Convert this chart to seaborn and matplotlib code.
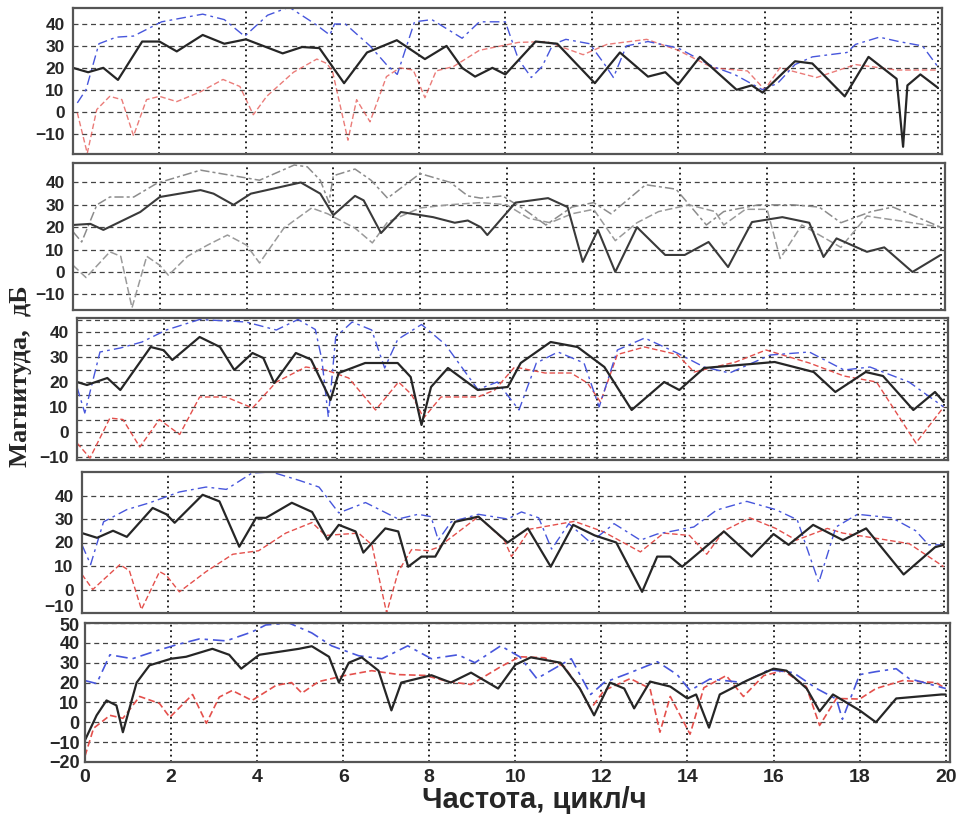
import numpy as np
import pandas as pd
import matplotlib
matplotlib.use('Agg')
import matplotlib.pyplot as plt
from matplotlib.transforms import ScaledTranslation
import seaborn as sns

# ============================
# Spectra (frequency in cycles/h, magnitude in dB)
# ============================
# Panel 1
f1_black = [0, 0.35, 0.7, 1.04, 1.6, 2.0, 2.4, 3.0, 3.5, 4.0, 4.85, 5.3, 5.7, 6.27, 6.8, 7.49, 8.14, 8.64, 9.0, 9.3,
            9.7, 10.0, 10.7, 11.2, 12.07, 12.65, 13.3, 13.7, 14.0, 14.5, 15.35, 15.7, 15.95, 16.7, 17.1, 17.85, 18.4,
            19.05, 19.2, 19.3, 19.6, 20.0]
db1_black = [20, 18, 20, 14.5, 32, 32, 27.5, 35, 31, 33, 26.6, 29.5, 29, 13, 27, 32.6, 24, 30, 20, 16,
             20, 17, 32, 31, 13, 27, 16, 18, 12.4, 25, 10, 12, 8.7, 23, 22, 7, 25,
             15, -16, 12, 17, 11]
f1_blue = [0.1, 0.3, 0.6, 1.0, 1.4, 2.05, 3.0, 3.5, 3.97, 4.5, 5.0, 5.6, 5.94, 6.05, 6.3, 6.87, 7.25, 7.5, 7.9, 8.3,
           9.0, 9.4, 10.0, 10.3, 10.6, 10.85, 11.1, 11.4, 11.95, 12.3, 12.5, 12.8, 13.3, 14.0, 14.8, 15.3, 15.95,
           16.3, 16.7, 17.1, 17.9, 18.1, 18.65, 19.1, 19.65, 20.0]
db1_blue = [4, 10, 31, 34, 34.5, 41, 44.5, 42, 34.4, 44, 47.7, 40, 35, 40, 40, 30, 21.5, 17, 41, 42,
            33.5, 41, 41, 24, 15.6, 20.6, 30.7, 33, 31, 21.5, 15.6, 30, 32, 29, 20.6, 17, 10,
            13, 21.5, 25, 27, 30.7, 34, 32, 30, 20.6]
f1_red = [0.1, 0.33, 0.55, 0.85, 1.13, 1.4, 1.7, 2.0, 2.4, 2.94, 3.47, 3.86, 4.17, 4.48, 5.1, 5.64, 5.87, 6.0, 6.36,
          6.56, 6.87, 7.25, 7.56, 7.87, 8.14, 8.4, 8.8, 9.4, 10.3, 10.95, 11.8, 12.35, 13.27, 14.0, 14.8, 15.6,
          16.0, 16.35, 17.2, 18.1, 19.05, 20.0]
db1_red = [-0.5, -19, 1, 7, 5.5, -11, 5.5, 7, 4.6, 9, 14.7, 11.5, -1.4, 7, 18, 24, 22, 18.6, -13,
           5.5, -4.6, 16, 20, 19, 6.4, 18.6, 20.6, 28, 31.6, 32, 26, 30.7, 33, 28, 20, 18.6,
           10, 20, 15.6, 21.5, 19, 19]

# Panel 2 (grey scale)
f2_dark = [0, 0.4, 0.7, 1.55, 2.0, 2.94, 3.24, 3.7, 4.1, 5.25, 5.7, 6.0, 6.5, 6.7, 7.1, 7.56, 8.3, 8.8, 9.1, 9.4,
           9.55, 10.2, 10.95, 11.4, 11.75, 12.1, 12.5, 13.0, 13.65, 14.1, 14.65, 15.1, 15.65, 16.35, 16.97, 17.3,
           17.6, 18.3, 18.7, 19.35, 20.0]
db2_dark = [21, 21.5, 18.8, 26.8, 33.5, 36.6, 35, 30, 35, 40, 35, 25.4, 34, 32, 17.4, 26.8, 24.5, 22, 23, 20,
            16.5, 31, 33, 29, 4.5, 18.8, 0, 20, 7.6, 7.6, 13.4, 2.2, 22.3, 24.5, 22, 6.7,
            15, 9, 11, 0, 7.6]
f2_upper = [0, 0.2, 0.55, 0.85, 1.4, 1.94, 2.94, 3.7, 4.3, 5.1, 5.4, 5.7, 5.9, 6.0, 6.5, 6.87, 7.25, 8.0, 8.7, 9.1,
            9.4, 9.9, 10.4, 10.9, 11.5, 12.0, 12.4, 13.2, 13.9, 14.6, 15.0, 15.8, 16.6, 17.2, 17.7, 18.4, 18.9,
            19.4, 20.0]
db2_upper = [18, 13.4, 30, 33.5, 33.5, 39.7, 45.5, 43, 41, 47.8, 47, 41, 31, 43, 46, 41, 33, 44, 40, 34,
             33, 34, 28, 21, 29, 31, 26, 39, 37, 21, 27, 30, 30, 29, 22, 27, 29,
             25, 20]
f2_lower = [0, 0.3, 0.85, 1.1, 1.36, 1.7, 2.0, 2.2, 2.64, 3.1, 3.56, 4.0, 4.3, 4.86, 5.5, 5.87, 6.5, 6.9, 7.25, 8.0,
            8.65, 9.4, 10.0, 10.5, 11.0, 11.5, 12.0, 12.5, 13.0, 13.5, 14.2, 14.8, 15.0, 15.5, 16.0, 16.3, 16.8,
            17.7, 18.3, 19.0, 20.0]
db2_lower = [3, -2.5, 9, 7, -16, 7, 3, -1.5, 7, 12, 16.5, 12, 4, 19.6, 28.6, 26, 19.6, 13, 22.3, 28.6,
             30, 31, 30, 24, 22, 26, 28, 14, 22, 27, 30, 27, 21, 28, 28, 6, 21,
             11, 25, 23, 20]

# Panel 3
f3_black = [0, 0.23, 0.7, 1.0, 1.7, 2.0, 2.2, 2.83, 3.3, 3.63, 4.05, 4.3, 4.55, 5.05, 5.4, 5.85, 6.04, 6.65, 7.4,
            7.7, 7.95, 8.17, 8.56, 9.25, 9.94, 10.24, 10.93, 11.55, 12.17, 12.8, 13.55, 13.9, 14.47, 16.1, 17.0,
            17.5, 18.2, 18.6, 19.3, 19.8, 20.0]
db3_black = [20, 18.8, 21.6, 16.8, 34, 32.7, 28.8, 38, 34, 24.8, 31.6, 29.6, 19.6, 31.6, 29, 12.8, 23.6, 27.6, 27.6,
             22, 2.8, 18, 25.6, 16.8, 18, 27.6, 36, 34, 26, 8.8, 20, 16.8, 25.6, 28, 24,
             16, 24, 22.4, 8.8, 16, 12]
f3_blue = [0, 0.18, 0.53, 1.0, 1.5, 2.06, 2.83, 3.9, 4.6, 5.1, 5.5, 5.65, 5.8, 5.97, 6.35, 6.8, 7.1, 7.4, 7.95, 8.5,
           9.25, 9.7, 10.2, 10.6, 11.1, 11.7, 12.05, 12.47, 13.1, 13.85, 14.47, 15.06, 16.0, 16.9, 17.7, 18.3,
           19.2, 20.0]
db3_blue = [18, 7.6, 32, 33.6, 36, 40.8, 45, 44, 40.8, 45, 41, 29, 6, 38, 44, 40.8, 25.6, 37, 43, 35,
            17, 20, 8.8, 27.6, 32, 27.6, 10, 32.8, 37.6, 31.6, 26, 23.6, 30.8, 32, 24.8, 26,
            20, 10]
f3_red = [0, 0.3, 0.76, 1.06, 1.45, 1.9, 2.37, 2.83, 3.44, 4.05, 4.6, 5.28, 5.74, 6.27, 6.89, 7.42, 7.72, 8.0, 8.4,
          9.25, 9.64, 10.1, 10.8, 11.4, 11.78, 12.08, 12.47, 13.1, 13.85, 14.24, 15.2, 15.9, 16.9, 17.7, 18.45,
          19.36, 20.0]
db3_red = [-4.4, -10.4, 5.6, 5, -6, 5, -1, 14, 14, 9.6, 20, 26, 24.8, 21.6, 8.8, 20, 15, 5.6, 14,
           14, 16.8, 26, 23.6, 23.6, 19.6, 12, 31, 34, 31, 24, 28, 32.8, 27.6, 22.4, 20,
           -4.4, 10]

# Panel 4
f4_black = [0, 0.35, 0.72, 1.04, 1.64, 1.96, 2.15, 2.8, 3.19, 3.65, 4.04, 4.27, 4.87, 5.34, 5.7, 5.96, 6.35, 6.53,
            7.04, 7.34, 7.57, 7.88, 8.2, 8.66, 9.2, 9.88, 10.35, 10.88, 11.4, 11.9, 12.4, 13.0, 13.35, 13.65,
            13.93, 14.9, 15.54, 16.05, 16.4, 16.97, 17.66, 18.2, 19.07, 19.8, 20.0]
db4_black = [24, 22, 25, 22.4, 34.7, 32, 28.4, 40.3, 37.5, 18.2, 30.5, 30.5, 36.9, 33, 21.2, 27.5, 24.7, 15.7,
             26, 24.7, 9.7, 14, 14, 28.8, 31, 20, 26, 9.7, 27.5, 23, 20, -1, 14, 14,
             9.7, 24.7, 14, 23.6, 19, 27.5, 21, 26, 6.4, 18, 19]
f4_blue = [0, 0.2, 0.5, 1.04, 1.57, 2.26, 2.88, 3.35, 3.95, 4.4, 5.03, 5.5, 5.96, 6.58, 7.34, 7.8, 8.1, 8.27, 8.57,
           9.2, 9.88, 10.2, 10.6, 10.9, 11.3, 11.8, 12.35, 12.96, 13.35, 14.2, 14.73, 15.43, 16.1, 16.6, 17.1,
           17.5, 18.0, 18.8, 19.35, 19.65, 20.0]
db4_blue = [19, 10.6, 28.8, 34, 36.9, 41.5, 43.6, 42.6, 49.6, 50, 46.5, 43.6, 32.6, 37, 30, 32, 31, 21, 28.8,
            32, 30, 33, 30.5, 17.2, 28, 20, 28, 21, 23.6, 26.6, 33.8, 37.5, 34, 29.7, 3,
            26.6, 32, 30.5, 25, 19, 19]
f4_red = [0, 0.25, 0.88, 1.1, 1.38, 1.8, 1.96, 2.26, 2.88, 3.5, 4.1, 4.73, 5.34, 5.65, 6.42, 6.73, 7.07, 7.34, 7.65,
          8.04, 8.27, 9.2, 9.8, 9.97, 10.4, 11.43, 12.1, 12.96, 13.5, 14.1, 14.5, 14.9, 15.5, 16.1, 16.58, 17.3,
          17.66, 18.43, 19.2, 20.0]
db4_red = [6.4, 0, 10.6, 8, -8.5, 7.6, 6, -1, 7.6, 15, 16.5, 24, 28.5, 23, 24, 19, -10, 7.6, 17,
           16.5, 18, 31, 21, 14, 25.7, 29, 24.6, 16, 24, 23, 15, 25, 30.5, 26, 21, 26,
           24, 21.8, 19.5, 9.7]

# Panel 5
f5_black = [0, 0.27, 0.5, 0.73, 0.88, 1.2, 1.5, 2.0, 2.35, 2.96, 3.35, 3.63, 4.05, 4.97, 5.27, 5.67, 5.9, 6.13,
            6.43, 6.82, 7.12, 7.35, 8.05, 8.5, 8.97, 9.6, 10.0, 10.36, 11.05, 11.5, 11.83, 12.2, 12.53, 12.76,
            13.13, 13.6, 14.0, 14.2, 14.5, 14.75, 15.38, 16.0, 16.3, 16.77, 17.07, 17.38, 18.0, 18.38, 18.85,
            19.9, 20.0]
db5_black = [-9, 3.5, 11, 8.5, -5, 20, 28.7, 32, 33, 37, 34, 27, 34, 37, 38.3, 33, 20, 30,
             32.7, 26, 6, 20, 23.7, 20, 25, 17, 29, 32.7, 30, 17, 3.5, 20, 17, 7,
             20.5, 18, 12, 14, -2.7, 14, 21, 27, 26, 17, 5.5, 14, 6, 0, 12,
             14, 14]
f5_blue = [0, 0.27, 0.58, 1.1, 1.66, 2.12, 2.66, 3.28, 3.88, 4.2, 4.74, 5.27, 5.73, 6.36, 6.9, 7.5, 8.05, 8.67,
           9.06, 9.66, 10.1, 10.5, 11.3, 11.75, 12.06, 12.67, 13.3, 13.76, 14.06, 14.52, 15.3, 15.9, 16.46, 17.0,
           17.46, 17.6, 18.0, 18.38, 18.85, 19.15, 20.0]
db5_blue = [21, 19.5, 34, 32, 36, 39, 42, 41, 45.5, 49, 50, 45, 38.5, 33.5, 32, 38.5, 32, 34,
            30, 38.5, 33, 22, 32, 14, 20, 25, 30.5, 24, 16, 21.8, 20, 26.5, 25, 17,
            11.7, 1.5, 24, 25.5, 27, 22, 17]
f5_red = [0, 0.2, 0.58, 0.88, 1.27, 1.73, 1.97, 2.5, 2.82, 3.12, 3.42, 3.88, 4.44, 4.8, 5.04, 5.43, 6.05, 6.66, 7.3,
          7.9, 8.44, 8.97, 9.66, 10.1, 10.68, 11.14, 11.5, 11.75, 12.06, 12.67, 13.13, 13.36, 13.6, 14.06, 14.38,
          14.9, 15.3, 15.77, 16.23, 16.76, 17.07, 17.46, 18.0, 18.38, 19.0, 19.77, 20.0]
db5_red = [-17, -3, 3.5, 2, 13, 9.5, 2.5, 14, -0.5, 12.7, 16, 11, 18.6, 20, 14.7, 20.5, 23.6, 26, 24,
           23.6, 20.5, 19, 28, 33, 32.5, 28, 17, 6.7, 16, 22, 17, -5, 13, -6, 17.4,
           23.5, 13, 23.5, 26, 18, -1.6, 12, 11.7, 17, 21, 20, 17]

x_ticks = list(range(0, 21, 2))

# ============================
# Styling
# ============================
sns.set_theme(style='white')
plt.rcParams['font.family'] = ['Liberation Sans', 'DejaVu Sans']

BLACK = dict(color='#262626', lw=1.6, linestyle='-', solid_joinstyle='round')
BLUE = dict(color='#4756dc', lw=1.0, linestyle=(0, (7, 3, 2, 3)))
RED = dict(color='#e4504c', lw=1.0, linestyle=(0, (4, 2)))

panels = [
    # (left px, right px, top px, bottom px, ylim, yticks, series)
    (73, 942, 8, 154, (-19.3, 47.3), range(-10, 41, 10),
     [(f1_red, db1_red, dict(RED, alpha=0.75)), (f1_blue, db1_blue, BLUE), (f1_black, db1_black, BLACK)]),
    (73, 945, 163, 310, (-17, 48.7), range(-10, 41, 10),
     [(f2_lower, db2_lower, dict(color='#9a9a9a', lw=1.1, linestyle=(0, (5, 2)))),
      (f2_upper, db2_upper, dict(color='#8c8c8c', lw=1.1, linestyle=(0, (6, 2, 2, 2)))),
      (f2_dark, db2_dark, dict(color='#3a3a3a', lw=1.5, linestyle='-', solid_joinstyle='round'))]),
    (77, 948, 318, 460, (-11.2, 45.6), range(-10, 41, 10),
     [(f3_red, db3_red, RED), (f3_blue, db3_blue, BLUE), (f3_black, db3_black, BLACK)]),
    (82, 948, 472, 613, (-9.7, 50), range(-10, 41, 10),
     [(f4_red, db4_red, RED), (f4_blue, db4_blue, BLUE), (f4_black, db4_black, BLACK)]),
    (85, 950, 623, 762, (-20, 50), range(-20, 51, 10),
     [(f5_red, db5_red, dict(RED, lw=1.2)), (f5_blue, db5_blue, dict(BLUE, lw=1.2)), (f5_black, db5_black, BLACK)]),
]

W, H = 963, 814
fig = plt.figure(figsize=(W / 100, H / 100), dpi=100)


def nudge(label, dy_px):
    # shift a tick label vertically by a few pixels
    label.set_transform(label.get_transform() + ScaledTranslation(0, dy_px / 100, fig.dpi_scale_trans))


for i, (l, r, t, b, ylim, yt, series) in enumerate(panels):
    ax = fig.add_axes([l / W, 1 - b / H, (r - l) / W, (b - t) / H])
    for f, db, st in series:
        sns.lineplot(x=f, y=db, ax=ax, estimator=None, sort=False, **st)
    ax.set_xlim(0, 20.1)
    ax.set_ylim(*ylim)
    ax.set_xticks(x_ticks)
    ax.set_yticks(list(yt))
    if i == 2:
        ax.set_yticks(list(range(-5, 46, 10)), minor=True)
        ax.yaxis.grid(True, which='minor', linestyle=(0, (4, 3)), color='#444444', lw=0.9)
    ax.yaxis.grid(True, which='major', linestyle=(0, (4, 3)), color='#444444', lw=0.9)
    ax.xaxis.grid(True, linestyle=(0, (1, 2)), color='#111111', lw=1.3)
    ax.set_axisbelow(True)
    for s in ax.spines.values():
        s.set_color('#555555')
        s.set_linewidth(1.6)
    last = i == len(panels) - 1
    ax.tick_params(axis='both', which='both', length=0)
    ax.tick_params(axis='y', labelsize=13 if last else 12.5, pad=4 if last else 6)
    for lab in ax.get_yticklabels():
        lab.set_fontweight('bold')
    if last:
        ax.tick_params(axis='x', labelsize=14, pad=5)
        for lab in ax.get_xticklabels():
            lab.set_fontweight('bold')
        nudge(ax.yaxis.get_major_ticks()[-1].label1, -1.5)
    else:
        ax.set_xticklabels([])
    if i == 3:
        nudge(ax.yaxis.get_major_ticks()[0].label1, 6.5)
    ax.set_xlabel('')
    ax.set_ylabel('')

fig.text(534 / W, 1 - 800 / H, 'Частота, цикл/ч', ha='center', va='center',
         fontsize=21, fontweight='bold')
fig.text(20 / W, 1 - 376 / H, 'Магнитуда,  дБ', ha='center', va='center', rotation=90,
         fontsize=19, fontweight='bold', family=['Liberation Serif', 'DejaVu Serif'])

fig.savefig('out.png', dpi=100)
